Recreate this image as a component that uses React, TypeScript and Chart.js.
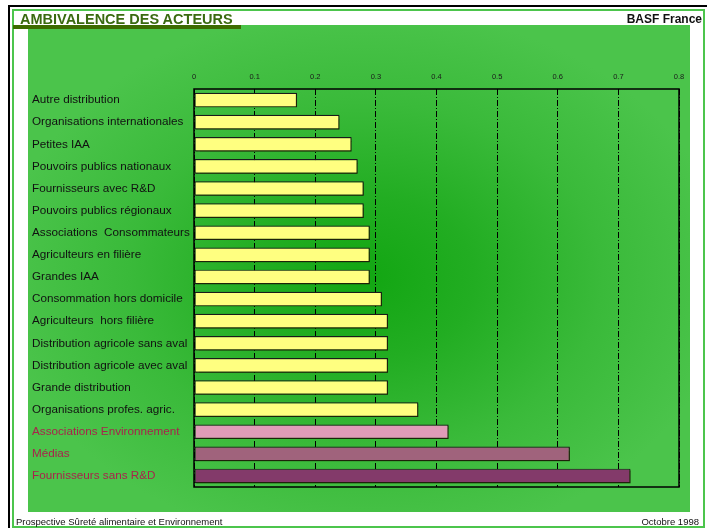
import { useEffect, useRef } from "react";
import { Chart, registerables } from "chart.js";

Chart.register(...registerables);

const categories = [
  "Autre distribution",
  "Organisations internationales",
  "Petites IAA",
  "Pouvoirs publics nationaux",
  "Fournisseurs avec R&D",
  "Pouvoirs publics régionaux",
  "Associations  Consommateurs",
  "Agriculteurs en filière",
  "Grandes IAA",
  "Consommation hors domicile",
  "Agriculteurs  hors filière",
  "Distribution agricole sans aval",
  "Distribution agricole avec aval",
  "Grande distribution",
  "Organisations profes. agric.",
  "Associations Environnement",
  "Médias",
  "Fournisseurs sans R&D",
];

const values = [
  0.17, 0.24, 0.26, 0.27, 0.28, 0.28, 0.29, 0.29, 0.29, 0.31, 0.32, 0.32, 0.32,
  0.32, 0.37, 0.42, 0.62, 0.72,
];

const barColors = [
  "#ffff80", "#ffff80", "#ffff80", "#ffff80", "#ffff80", "#ffff80",
  "#ffff80", "#ffff80", "#ffff80", "#ffff80", "#ffff80", "#ffff80",
  "#ffff80", "#ffff80", "#ffff80", "#e09cb8", "#a0637c", "#833a6a",
];

const labelColors = [
  "#111111", "#111111", "#111111", "#111111", "#111111", "#111111",
  "#111111", "#111111", "#111111", "#111111", "#111111", "#111111",
  "#111111", "#111111", "#111111", "#a8244c", "#a8244c", "#a8244c",
];

const xTickMin = 0;
const xTickMax = 0.8;
const xTickStep = 0.1;

const FONT = '"Liberation Sans", Arial, Helvetica, sans-serif';

const panelPlugin = {
  id: "panelBg",
  beforeDraw(chart: any) {
    const ctx = chart.ctx as CanvasRenderingContext2D;
    const x0 = 28, y0 = 25, w = 662, h = 487;
    ctx.save();
    const cx = 365, cy = 278;
    ctx.beginPath();
    ctx.rect(x0, y0, w, h);
    ctx.clip();
    ctx.translate(cx, cy);
    ctx.scale(1.35, 1);
    const g = ctx.createRadialGradient(0, 0, 0, 0, 0, 270);
    g.addColorStop(0, "#12a612");
    g.addColorStop(0.3, "#22ad22");
    g.addColorStop(0.65, "#3aba3a");
    g.addColorStop(1, "#4bc44b");
    ctx.fillStyle = g;
    ctx.fillRect(-600, -600, 1200, 1200);
    ctx.restore();
  },
  beforeDatasetsDraw(chart: any) {
    const ctx = chart.ctx as CanvasRenderingContext2D;
    ctx.save();
    ctx.shadowColor = "rgba(30,40,0,0.65)";
    ctx.shadowOffsetX = 1.5;
    ctx.shadowOffsetY = 1.5;
    ctx.shadowBlur = 1;
  },
  afterDatasetsDraw(chart: any) {
    const ctx = chart.ctx as CanvasRenderingContext2D;
    ctx.restore();
    const a = chart.chartArea;
    ctx.save();
    ctx.strokeStyle = "#000";
    ctx.lineWidth = 1.5;
    ctx.strokeRect(a.left, a.top, a.right - a.left, a.bottom - a.top);
    ctx.restore();
  },
};

export default function App() {
  const ref = useRef<HTMLCanvasElement | null>(null);

  useEffect(() => {
    if (!ref.current) return;
    const chart = new Chart(ref.current, {
      type: "bar",
      data: {
        labels: categories,
        datasets: [
          {
            data: values,
            backgroundColor: barColors,
            borderColor: "#1a1a1a",
            borderWidth: 1.2,
            borderSkipped: false,
            barPercentage: 0.66,
            categoryPercentage: 1,
          },
        ],
      },
      options: {
        indexAxis: "y",
        animation: false,
        responsive: false,
        maintainAspectRatio: false,
        layout: { padding: { left: 32, right: 28, top: 60, bottom: 41 } },
        plugins: {
          legend: { display: false },
          tooltip: { enabled: false },
          title: { display: false },
        },
        scales: {
          x: {
            type: "linear",
            position: "top",
            min: xTickMin,
            max: xTickMax,
            afterFit: (s: any) => {
              s.height = 29;
            },
            ticks: {
              stepSize: xTickStep,
              padding: 8,
              color: "#1a1a1a",
              font: { family: FONT, size: 7.5 },
              callback: (v: any) => String(Math.round(Number(v) * 10) / 10),
            },
            grid: {
              color: "#000",
              lineWidth: 1,
              drawTicks: false,
            },
            border: { display: false, dash: [6, 2, 1, 2] },
          },
          y: {
            type: "category",
            offset: true,
            afterFit: (s: any) => {
              s.width = 162;
            },
            grid: { display: false },
            border: { display: false },
            ticks: {
              crossAlign: "far",
              padding: 0,
              autoSkip: false,
              color: (c: any) => labelColors[c.index] ?? "#111",
              font: { family: FONT, size: 11.7 },
            },
          },
        },
      },
      plugins: [panelPlugin],
    } as any);
    return () => chart.destroy();
  }, []);

  return (
    <div
      style={{
        position: "fixed",
        left: 0,
        top: 0,
        width: 707,
        height: 528,
        background: "#fff",
        overflow: "hidden",
        fontFamily: FONT,
      }}
    >
      <div
        style={{
          position: "absolute",
          left: 8,
          top: 5,
          width: 800,
          height: 600,
          border: "2px solid #000",
          boxSizing: "border-box",
        }}
      />
      <div
        style={{
          position: "absolute",
          left: 12,
          top: 9,
          width: 693,
          height: 519,
          border: "2px solid #4cc54c",
          boxSizing: "border-box",
        }}
      />
      <canvas
        ref={ref}
        width={707}
        height={528}
        style={{ position: "absolute", left: 0, top: 0, width: 707, height: 528 }}
      />
      <div
        style={{
          position: "absolute",
          left: 13,
          top: 25,
          width: 228,
          height: 4,
          background: "#3d6b00",
        }}
      />
      <div
        style={{
          position: "absolute",
          left: 20,
          top: 12,
          fontSize: 14.5,
          lineHeight: "14px",
          fontWeight: "bold",
          color: "#3a6a10",
          whiteSpace: "pre",
        }}
      >
        AMBIVALENCE DES ACTEURS
      </div>
      <div
        style={{
          position: "absolute",
          right: 5,
          top: 12.5,
          fontSize: 12,
          lineHeight: "12px",
          fontWeight: "bold",
          color: "#111",
          whiteSpace: "pre",
        }}
      >
        BASF France
      </div>
      <div
        style={{
          position: "absolute",
          left: 16,
          top: 517,
          fontSize: 9.5,
          lineHeight: "9.5px",
          color: "#111",
          whiteSpace: "pre",
        }}
      >
        Prospective Sûreté alimentaire et Environnement
      </div>
      <div
        style={{
          position: "absolute",
          right: 8,
          top: 517,
          fontSize: 9.5,
          lineHeight: "9.5px",
          color: "#111",
          whiteSpace: "pre",
        }}
      >
        Octobre 1998
      </div>
    </div>
  );
}
